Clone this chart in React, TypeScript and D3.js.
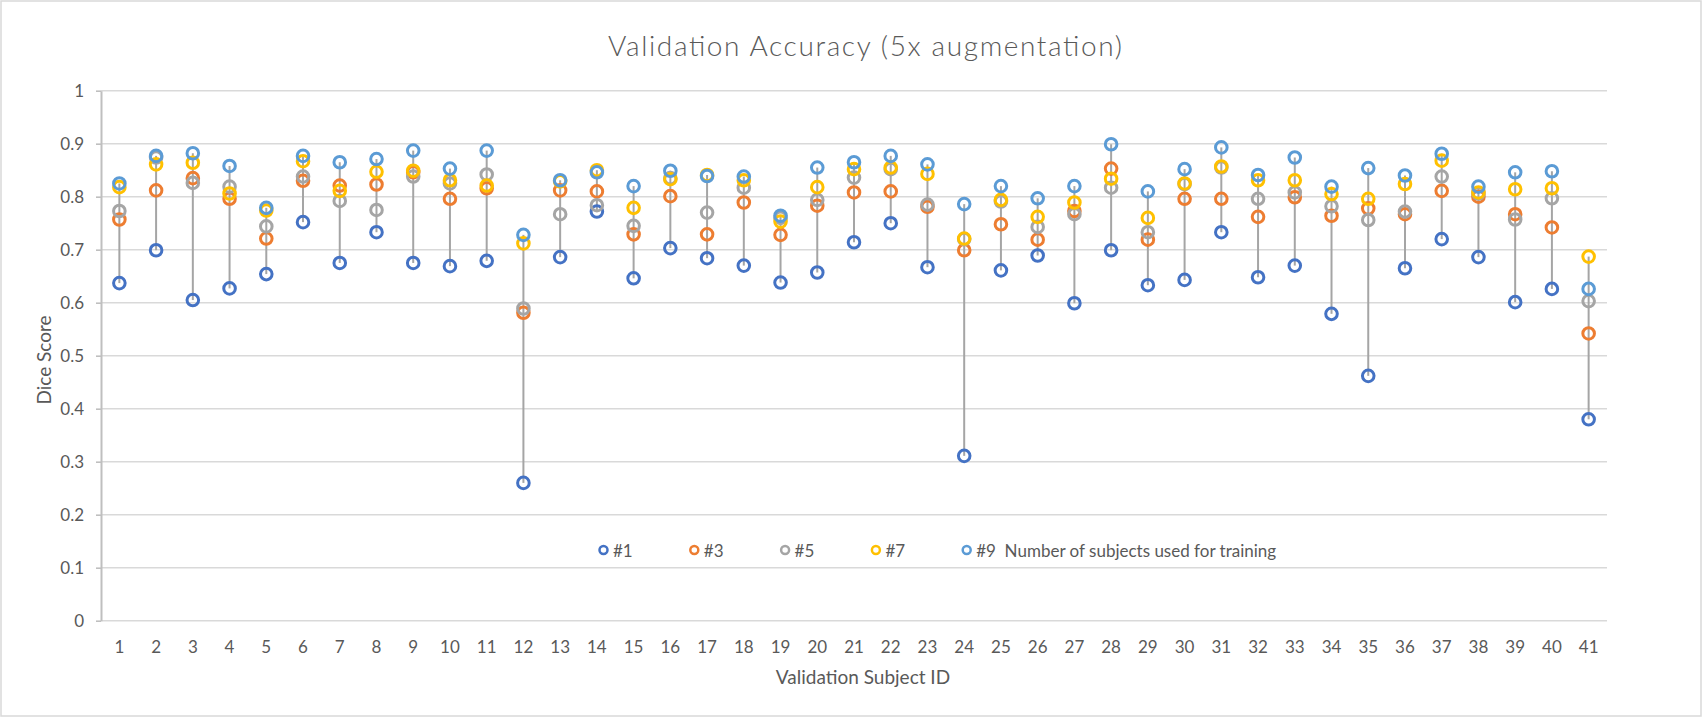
import React, { useEffect, useRef } from 'react';
import * as d3 from 'd3';

const subjects = d3.range(1, 42).map(String);

const seriesNames = ['#1', '#3', '#5', '#7', '#9'];
const legendLabels = ['#1', '#3', '#5', '#7', '#9  Number of subjects used for training'];
const seriesColors = ['#4472C4', '#ED7D31', '#A5A5A5', '#FFC000', '#5B9BD5'];

const train1 = [0.637, 0.699, 0.605, 0.627, 0.654, 0.752, 0.675, 0.733, 0.675, 0.669, 0.679, 0.260, 0.686, 0.772, 0.646, 0.703, 0.684, 0.670, 0.638, 0.657, 0.714, 0.750, 0.667, 0.311, 0.661, 0.689, 0.599, 0.699, 0.633, 0.643, 0.733, 0.648, 0.670, 0.579, 0.462, 0.665, 0.720, 0.686, 0.601, 0.626, 0.380];
const train3 = [0.757, 0.812, 0.835, 0.796, 0.721, 0.830, 0.821, 0.823, 0.846, 0.796, 0.816, 0.581, 0.812, 0.810, 0.729, 0.801, 0.729, 0.789, 0.728, 0.783, 0.808, 0.810, 0.781, 0.699, 0.748, 0.719, 0.773, 0.853, 0.719, 0.796, 0.796, 0.762, 0.799, 0.764, 0.778, 0.767, 0.811, 0.800, 0.767, 0.742, 0.542];
const train5 = [0.773, 0.874, 0.826, 0.819, 0.744, 0.838, 0.792, 0.775, 0.838, 0.825, 0.842, 0.589, 0.767, 0.784, 0.745, 0.835, 0.770, 0.817, 0.760, 0.794, 0.836, 0.852, 0.785, 0.720, 0.791, 0.743, 0.767, 0.817, 0.733, 0.824, 0.855, 0.796, 0.808, 0.782, 0.756, 0.772, 0.838, 0.806, 0.757, 0.797, 0.603];
const train7 = [0.818, 0.861, 0.864, 0.806, 0.774, 0.867, 0.811, 0.847, 0.849, 0.831, 0.821, 0.712, 0.829, 0.850, 0.779, 0.833, 0.841, 0.831, 0.753, 0.818, 0.852, 0.855, 0.843, 0.721, 0.794, 0.762, 0.789, 0.834, 0.760, 0.825, 0.857, 0.831, 0.831, 0.805, 0.796, 0.824, 0.868, 0.808, 0.814, 0.816, 0.687];
const train9 = [0.825, 0.877, 0.882, 0.858, 0.779, 0.877, 0.865, 0.871, 0.887, 0.853, 0.887, 0.728, 0.831, 0.846, 0.820, 0.849, 0.839, 0.838, 0.764, 0.855, 0.865, 0.877, 0.861, 0.786, 0.820, 0.797, 0.820, 0.899, 0.810, 0.852, 0.893, 0.841, 0.874, 0.819, 0.854, 0.840, 0.881, 0.819, 0.846, 0.848, 0.626];

const allSeries = [train1, train3, train5, train7, train9];

const yTicks = d3.range(0, 11).map((d) => d / 10);

export default function App() {
  const ref = useRef<SVGSVGElement>(null);

  useEffect(() => {
    if (!ref.current) return;
    const svg = d3.select(ref.current);
    svg.selectAll('*').remove();

    const width = 1702;
    const height = 717;
    const left = 101;
    const right = 1607;
    const top = 90.7;
    const bottom = 620.7;
    const font = 'Lato, "Open Sans", sans-serif';
    const textColor = '#595959';

    svg.append('rect')
      .attr('x', 1)
      .attr('y', 1)
      .attr('width', width - 2)
      .attr('height', height - 2)
      .attr('fill', '#fff')
      .attr('stroke', '#d9d9d9')
      .attr('stroke-width', 1.5);

    const x = d3.scaleBand<string>().domain(subjects).range([left, right]);
    const y = d3.scaleLinear().domain([0, 1]).range([bottom, top]);
    const cx = (i: number) => x(subjects[i])! + x.bandwidth() / 2;

    // gridlines
    svg.append('g')
      .selectAll('line')
      .data(yTicks)
      .join('line')
      .attr('x1', left)
      .attr('x2', right)
      .attr('y1', (d) => y(d))
      .attr('y2', (d) => y(d))
      .attr('stroke', '#d9d9d9')
      .attr('stroke-width', 1.6);

    // y axis
    const yAxis = svg.append('g')
      .attr('transform', `translate(${left},0)`)
      .call(
        d3.axisLeft(y)
          .tickValues(yTicks)
          .tickSize(5)
          .tickSizeOuter(0)
          .tickPadding(12)
          .tickFormat((d) => d3.format('~g')(d as number))
      );
    yAxis.select('.domain').attr('stroke', '#bfbfbf').attr('stroke-width', 2);
    yAxis.selectAll('.tick line').attr('stroke', '#bfbfbf').attr('stroke-width', 1.6);
    yAxis.selectAll('.tick text')
      .attr('fill', textColor)
      .attr('font-size', 17)
      .attr('font-family', font);

    // x labels
    svg.append('g')
      .selectAll('text')
      .data(subjects)
      .join('text')
      .attr('x', (d) => x(d)! + x.bandwidth() / 2)
      .attr('y', 646)
      .attr('text-anchor', 'middle')
      .attr('dominant-baseline', 'central')
      .attr('fill', textColor)
      .attr('font-size', 17)
      .attr('font-family', font)
      .text((d) => d);

    // high-low lines
    svg.append('g')
      .selectAll('line')
      .data(subjects)
      .join('line')
      .attr('x1', (d, i) => cx(i))
      .attr('x2', (d, i) => cx(i))
      .attr('y1', (d, i) => y(d3.min(allSeries, (s) => s[i])!))
      .attr('y2', (d, i) => y(d3.max(allSeries, (s) => s[i])!))
      .attr('stroke', '#a5a5a5')
      .attr('stroke-width', 2);

    // markers
    allSeries.forEach((values, si) => {
      svg.append('g')
        .selectAll('circle')
        .data(values)
        .join('circle')
        .attr('cx', (d, i) => cx(i))
        .attr('cy', (d) => y(d))
        .attr('r', 5.8)
        .attr('fill', 'none')
        .attr('stroke', seriesColors[si])
        .attr('stroke-width', 3);
    });

    // legend
    const legend = svg.append('g').attr('transform', 'translate(603.5,550)');
    const item = legend.selectAll('g')
      .data(seriesNames)
      .join('g')
      .attr('transform', (d, i) => `translate(${i * 90.8},0)`);
    item.append('circle')
      .attr('r', 4)
      .attr('fill', 'none')
      .attr('stroke', (d, i) => seriesColors[i])
      .attr('stroke-width', 2.5);
    item.append('text')
      .attr('x', 9.5)
      .attr('dominant-baseline', 'central')
      .attr('fill', textColor)
      .attr('font-size', 17)
      .attr('font-family', font)
      .style('white-space', 'pre')
      .text((d, i) => legendLabels[i]);

    // titles
    svg.append('text')
      .attr('x', 865)
      .attr('y', 56)
      .attr('text-anchor', 'middle')
      .attr('fill', textColor)
      .attr('font-size', 28)
      .attr('font-weight', 300)
      .attr('font-family', font)
      .attr('textLength', 514)
      .attr('lengthAdjust', 'spacing')
      .text('Validation Accuracy (5x augmentation)');

    svg.append('text')
      .attr('transform', `translate(43,360) rotate(-90)`)
      .attr('text-anchor', 'middle')
      .attr('dominant-baseline', 'central')
      .attr('fill', textColor)
      .attr('font-size', 19)
      .attr('font-family', font)
      .text('Dice Score');

    svg.append('text')
      .attr('x', 863)
      .attr('y', 676)
      .attr('text-anchor', 'middle')
      .attr('dominant-baseline', 'central')
      .attr('fill', textColor)
      .attr('font-size', 19)
      .attr('font-family', font)
      .text('Validation Subject ID');
  }, []);

  return (
    <>
      <style>{'body{margin:0;overflow:hidden;}'}</style>
      <svg ref={ref} width={1702} height={717} style={{ display: 'block' }} />
    </>
  );
}
